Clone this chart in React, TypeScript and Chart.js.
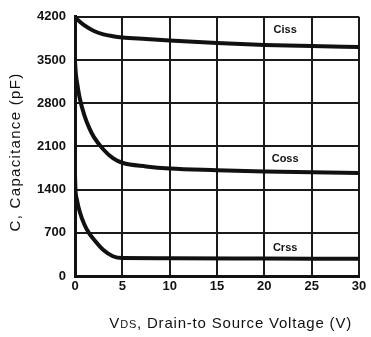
import React, { useEffect, useRef } from 'react';
import { Chart, registerables } from 'chart.js';

Chart.register(...registerables);

// Drain-to-source voltage (V) sample points and capacitance (pF) per curve
const cissV = [0, 1, 2, 3, 4, 5, 7.5, 10, 15, 20, 25, 30];
const cissC = [4190, 4060, 3970, 3915, 3885, 3865, 3840, 3815, 3775, 3745, 3725, 3710];
const cossV = [0, 0.1, 0.25, 0.5, 1, 1.5, 2, 3, 4, 5, 7.5, 10, 15, 20, 25, 30];
const cossC = [3480, 3260, 3100, 2880, 2600, 2400, 2250, 2050, 1910, 1835, 1775, 1740, 1715, 1695, 1680, 1670];
const crssV = [0, 0.05, 0.2, 0.5, 1, 1.5, 2, 3, 4, 5, 10, 20, 30];
const crssC = [1640, 1400, 1240, 1040, 830, 690, 590, 420, 320, 290, 288, 283, 278];

const seriesNames = ['Ciss', 'Coss', 'Crss'];
// label anchors in data units (V, pF)
const labelV = [22.2, 22.2, 22.2];
const labelC = [3985, 1890, 450];

const xTicks = [0, 5, 10, 15, 20, 25, 30];
const yTicks = [0, 700, 1400, 2100, 2800, 3500, 4200];

const xTitleParts = ['V', 'DS', ', Drain-to Source Voltage (V)'];
const yTitle = 'C, Capacitance (pF)';

const toPts = (xs: number[], ys: number[]) => xs.map((x, i) => ({ x, y: ys[i] }));

const textPlugin = {
  id: 'textPlugin',
  afterDraw(chart: any) {
    const ctx = chart.ctx as CanvasRenderingContext2D;
    const { x, y } = chart.scales;
    const area = chart.chartArea;
    ctx.save();
    ctx.fillStyle = '#111';
    // series labels
    ctx.font = 'bold 11px "Liberation Sans", Arial, sans-serif';
    ctx.textAlign = 'center';
    ctx.textBaseline = 'middle';
    seriesNames.forEach((n, i) => {
      ctx.fillText(n, x.getPixelForValue(labelV[i]), y.getPixelForValue(labelC[i]));
    });
    // x title
    const big = '15px "Liberation Sans", Arial, sans-serif';
    const small = '11px "Liberation Sans", Arial, sans-serif';
    (ctx as any).letterSpacing = '0.8px';
    ctx.textAlign = 'left';
    ctx.textBaseline = 'alphabetic';
    const fonts = [big, small, big];
    let total = 0;
    const widths = xTitleParts.map((p, i) => {
      ctx.font = fonts[i];
      const w = ctx.measureText(p).width;
      total += w;
      return w;
    });
    let cx = area.right - 7 - total;
    const by = 328;
    xTitleParts.forEach((p, i) => {
      ctx.font = fonts[i];
      ctx.fillText(p, cx, by);
      cx += widths[i];
    });
    // y title
    (ctx as any).letterSpacing = '1.3px';
    ctx.font = big;
    ctx.textAlign = 'center';
    ctx.textBaseline = 'middle';
    ctx.translate(16, 152);
    ctx.rotate(-Math.PI / 2);
    ctx.fillText(yTitle, 0, 0);
    ctx.restore();
  },
};

export default function App() {
  const ref = useRef<HTMLCanvasElement | null>(null);
  useEffect(() => {
    document.body.style.margin = '0';
    const el = ref.current;
    if (!el) return;
    const lineStyle = {
      borderColor: '#111',
      borderWidth: 4,
      pointRadius: 0,
      showLine: true,
      cubicInterpolationMode: 'monotone' as const,
      fill: false,
    };
    const chart = new Chart(el, {
      type: 'scatter',
      data: {
        datasets: [
          { label: seriesNames[0], data: toPts(cissV, cissC), ...lineStyle },
          { label: seriesNames[1], data: toPts(cossV, cossC), ...lineStyle },
          { label: seriesNames[2], data: toPts(crssV, crssC), ...lineStyle },
        ],
      },
      options: {
        animation: false,
        responsive: false,
        devicePixelRatio: 1,
        layout: { padding: { left: 0, right: 12, top: 14, bottom: 0 } },
        plugins: { legend: { display: false }, tooltip: { enabled: false } },
        scales: {
          x: {
            type: 'linear',
            min: 0,
            max: 30,
            afterBuildTicks: (s: any) => { s.ticks = xTicks.map((v) => ({ value: v })); },
            afterFit: (s: any) => { s.height = 61; },
            grid: { color: '#1a1a1a', lineWidth: 2, drawTicks: false },
            border: { display: true, color: '#111', width: 3 },
            ticks: {
              color: '#111',
              padding: 3,
              maxRotation: 0,
              callback: (v: any) => String(v),
              font: { family: '"Liberation Sans", Arial, sans-serif', size: 13, weight: 'bold' },
            },
          },
          y: {
            type: 'linear',
            min: 0,
            max: 4200,
            afterBuildTicks: (s: any) => { s.ticks = yTicks.map((v) => ({ value: v })); },
            afterFit: (s: any) => { s.width = 75; },
            grid: { color: '#1a1a1a', lineWidth: 2, drawTicks: false },
            border: { display: true, color: '#111', width: 3 },
            ticks: {
              color: '#111',
              padding: 9,
              callback: (v: any) => String(v),
              font: { family: '"Liberation Sans", Arial, sans-serif', size: 13, weight: 'bold' },
            },
          },
        },
      },
      plugins: [textPlugin],
    });
    return () => chart.destroy();
  }, []);
  return (
    <div style={{ position: 'fixed', left: 0, top: 0, width: 371, height: 337, background: '#fff' }}>
      <canvas ref={ref} width={371} height={337} style={{ width: 371, height: 337 }} />
    </div>
  );
}
